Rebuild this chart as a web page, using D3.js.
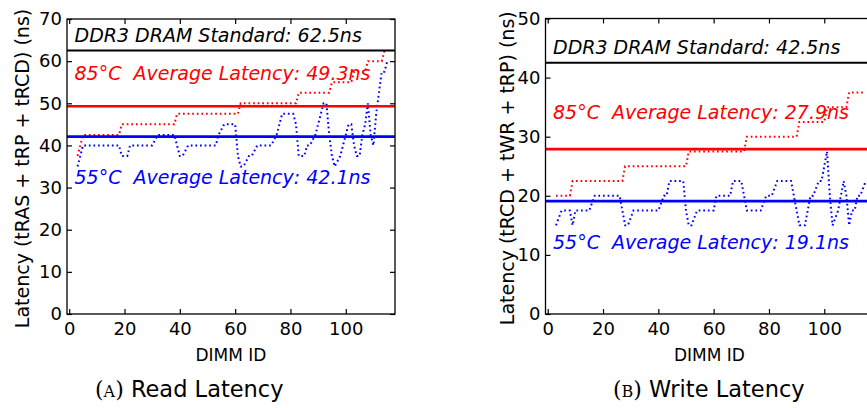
<!DOCTYPE html>
<html>
<head>
<meta charset="utf-8">
<script src="https://cdn.jsdelivr.net/npm/d3@7"></script>
<style>
  html, body { margin: 0; padding: 0; background: #fff; }
  svg { display: block; }
  text { font-family: "DejaVu Sans", sans-serif; }
</style>
</head>
<body>
<svg id="chart" width="867" height="408"></svg>
<script>
// ---- data: per-DIMM latency (ns), DIMM ids start at dimmFirst ----
const dimmFirst = 3;
const xTickValues = [0, 20, 40, 60, 80, 100];
const readTickValues = [0, 10, 20, 30, 40, 50, 60, 70];
const writeTickValues = [0, 10, 20, 30, 40, 50];

// Read latency (tRAS + tRP + tRCD)
const readHot = [
  37.5, 40,
  42.5, 42.5, 42.5, 42.5, 42.5, 42.5, 42.5, 42.5, 42.5, 42.5, 42.5, 42.5, 42.5, 42.5,
  45, 45, 45, 45, 45, 45, 45, 45, 45, 45, 45, 45, 45, 45, 45, 45, 45, 45, 45, 45,
  47.5, 47.5, 47.5, 47.5, 47.5, 47.5, 47.5, 47.5, 47.5, 47.5, 47.5, 47.5, 47.5, 47.5, 47.5, 47.5,
  47.5, 47.5, 47.5, 47.5, 47.5, 47.5, 47.5,
  50, 50, 50, 50, 50, 50, 50, 50, 50, 50, 50, 50, 50, 50, 50, 50, 50, 50, 50, 50, 50,
  52.5, 52.5, 52.5, 52.5, 52.5, 52.5, 52.5, 52.5, 52.5, 52.5, 52.5, 52.5,
  55, 55, 55, 55, 55, 55, 55, 55,
  57.5, 57.5, 57.5, 57.5, 57.5,
  60, 60, 60, 60, 60, 60,
  62.5, 62.5
];
const readCool = [
  35, 37.5,
  40, 40, 40, 40, 40, 40, 40, 40, 40, 40, 40, 40, 40, 40,
  37.5, 37.5, 37.5,
  40, 40, 40, 40, 40, 40, 40, 40, 40,
  41.25,
  42.5, 42.5, 42.5, 42.5, 42.5, 42.5, 42.5,
  40, 37.5, 37.5, 38.75,
  40, 40, 40, 40, 40, 40, 40, 40, 40, 40, 40,
  42.5, 43.75,
  45, 45, 45, 45, 45,
  37.5, 35, 35, 36.25, 37.5, 37.5, 38.75,
  40, 40, 40, 40, 40, 40,
  41.25, 42.5, 45,
  47.5, 47.5, 47.5, 47.5, 47.5,
  45, 37.5, 37.5, 37.5, 40, 40, 41.25, 42.5, 45, 47.5, 50, 50, 42.5,
  37.5, 35, 36.25, 37.5, 40, 42.5, 45, 45, 40, 37.5, 37.5, 42.5, 45, 50, 42.5, 40,
  47.5, 52.5, 57.5, 57.5, 60
];

// Write latency (tRCD + tWR + tRP)
const writeHot = [
  20, 20, 20, 20, 20, 20,
  22.5, 22.5, 22.5, 22.5, 22.5, 22.5, 22.5, 22.5, 22.5, 22.5, 22.5, 22.5, 22.5, 22.5, 22.5, 22.5, 22.5, 22.5, 22.5,
  25, 25, 25, 25, 25, 25, 25, 25, 25, 25, 25, 25, 25, 25, 25, 25, 25, 25, 25, 25, 25, 25, 25,
  27.5, 27.5, 27.5, 27.5, 27.5, 27.5, 27.5, 27.5, 27.5, 27.5, 27.5, 27.5, 27.5, 27.5, 27.5, 27.5, 27.5, 27.5, 27.5, 27.5, 27.5,
  30, 30, 30, 30, 30, 30, 30, 30, 30, 30, 30, 30, 30, 30, 30, 30, 30, 30, 30,
  32.5, 32.5, 32.5, 32.5, 32.5, 32.5, 32.5, 32.5, 32.5, 32.5,
  35, 35, 35, 35, 35, 35, 35, 35,
  37.5, 37.5, 37.5, 37.5, 37.5, 37.5, 37.5
];
const writeCool = [
  15, 16.25,
  17.5, 17.5, 17.5, 17.5,
  15,
  17.5, 17.5, 17.5, 17.5, 17.5, 17.5,
  18.75,
  20, 20, 20, 20, 20, 20, 20, 20, 20, 20,
  17.5, 15, 15, 16.25,
  17.5, 17.5, 17.5, 17.5, 17.5, 17.5, 17.5, 17.5, 17.5, 17.5,
  18.75, 20, 20,
  22.5, 22.5, 22.5, 22.5, 22.5, 22.5,
  17.5, 15, 15, 16.25,
  17.5, 17.5, 17.5, 17.5, 17.5, 17.5, 17.5,
  20, 20, 20, 20, 20, 20,
  22.5, 22.5, 22.5, 22.5,
  20,
  17.5, 17.5, 17.5, 17.5, 17.5, 17.5,
  18.75, 20, 20, 20, 21.25,
  22.5, 22.5, 22.5, 22.5, 22.5, 22.5,
  20, 17.5, 15, 15, 15, 17.5, 20, 20, 21.25, 22.5, 22.5, 25, 27.5,
  20, 15, 16.25, 17.5, 20, 22.5, 20, 15, 17.5, 17.5, 20, 20, 21.25, 22.5
];

const readStandard = 62.5, writeStandard = 42.5;
const readAvgHot = 49.3, readAvgCool = 42.1;
const writeAvgHot = 27.9, writeAvgCool = 19.1;

const hotColor = "#ff0000", coolColor = "#0000ff";

const svg = d3.select("#chart");

function panel(opts) {
  const { left, top, bottom, width, yMax, yTicks, hot, cool, standard, avgHot, avgCool,
          yLabel, labelX, textY, caption, captionX, captionLetter } = opts;
  const right = left + width;
  const x = d3.scaleLinear().domain([-0.8, 117.8]).range([left, right]);
  const y = d3.scaleLinear().domain([0, yMax]).range([bottom, top]);
  const g = svg.append("g");

  const line = d3.line()
    .x((d, i) => x(dimmFirst + i))
    .y(d => y(d));

  // dotted per-DIMM series
  [[cool, coolColor], [hot, hotColor]].forEach(([vals, col]) => {
    g.append("path")
      .attr("d", line(vals))
      .attr("fill", "none")
      .attr("stroke", col)
      .attr("stroke-width", 2)
      .attr("stroke-dasharray", "1.7 2.9");
  });

  // reference lines: standard and averages
  [[standard, "#000", 2], [avgHot, hotColor, 2.6], [avgCool, coolColor, 2.6]].forEach(([v, col, w]) => {
    g.append("line")
      .attr("x1", left).attr("x2", right)
      .attr("y1", y(v)).attr("y2", y(v))
      .attr("stroke", col).attr("stroke-width", w);
  });

  // frame
  g.append("rect")
    .attr("x", left).attr("y", top)
    .attr("width", width).attr("height", bottom - top)
    .attr("fill", "none").attr("stroke", "#000").attr("stroke-width", 1.3);

  // axes with inward ticks on all sides
  const tickLen = 5;
  const axB = g.append("g").attr("transform", `translate(0,${bottom})`)
    .call(d3.axisBottom(x).tickValues(xTickValues).tickSize(-tickLen).tickPadding(8).tickSizeOuter(0));
  const axT = g.append("g").attr("transform", `translate(0,${top})`)
    .call(d3.axisTop(x).tickValues(xTickValues).tickSize(-tickLen).tickFormat("").tickSizeOuter(0));
  const axL = g.append("g").attr("transform", `translate(${left},0)`)
    .call(d3.axisLeft(y).tickValues(yTicks).tickSize(-tickLen).tickPadding(5).tickSizeOuter(0));
  const axR = g.append("g").attr("transform", `translate(${right},0)`)
    .call(d3.axisRight(y).tickValues(yTicks).tickSize(-tickLen).tickFormat("").tickSizeOuter(0));
  [axB, axT, axL, axR].forEach(a => {
    a.select(".domain").remove();
    a.selectAll(".tick line").attr("stroke", "#000").attr("stroke-width", 1.2);
    a.selectAll("text").attr("fill", "#000").style("font-size", "18px")
      .style("font-family", "DejaVu Sans, sans-serif");
  });
  axB.selectAll("text").attr("dy", "0.71em");

  // in-plot annotations (two spaces between temperature and label)
  const gap = "\u00a0\u00a0";
  const ann = [
    [`DDR3 DRAM Standard: ${standard}ns`, "#000", textY[0]],
    [`85°C${gap}Average Latency: ${avgHot}ns`, hotColor, textY[1]],
    [`55°C${gap}Average Latency: ${avgCool}ns`, coolColor, textY[2]]
  ];
  ann.forEach(([t, col, ty]) => {
    g.append("text")
      .attr("x", left + 7.5).attr("y", ty)
      .attr("fill", col)
      .style("font-size", "19px").style("font-style", "oblique")
      .text(t);
  });

  // axis titles
  g.append("text")
    .attr("transform", `translate(${labelX},${(top + bottom) / 2 + 2}) rotate(-90)`)
    .attr("text-anchor", "middle")
    .style("font-size", "19px")
    .text(yLabel);
  g.append("text")
    .attr("x", left + 164).attr("y", 361)
    .attr("text-anchor", "middle")
    .style("font-size", "17px")
    .text("DIMM ID");

  // sub-caption
  const cap = g.append("text").attr("x", captionX).attr("y", 397).style("font-size", "22.5px");
  cap.append("tspan").style("font-family", "DejaVu Serif, serif").style("font-size", "22px").text("(");
  cap.append("tspan").style("font-family", "DejaVu Serif, serif").style("font-size", "16px").text(captionLetter);
  cap.append("tspan").style("font-family", "DejaVu Serif, serif").style("font-size", "22px").text(")");
  cap.append("tspan").text("\u00a0" + caption);
}

panel({
  left: 67, top: 19, bottom: 314, width: 328, yMax: 70, yTicks: readTickValues,
  hot: readHot, cool: readCool, standard: readStandard, avgHot: readAvgHot, avgCool: readAvgCool,
  yLabel: "Latency (tRAS + tRP + tRCD) (ns)", labelX: 29,
  textY: [42, 80, 184], caption: "Read Latency", captionX: 95, captionLetter: "A"
});

panel({
  left: 545.5, top: 18.5, bottom: 314, width: 328, yMax: 50, yTicks: writeTickValues,
  hot: writeHot, cool: writeCool, standard: writeStandard, avgHot: writeAvgHot, avgCool: writeAvgCool,
  yLabel: "Latency (tRCD + tWR + tRP) (ns)", labelX: 514,
  textY: [53.5, 118.5, 248.5], caption: "Write Latency", captionX: 613, captionLetter: "B"
});
</script>
</body>
</html>
